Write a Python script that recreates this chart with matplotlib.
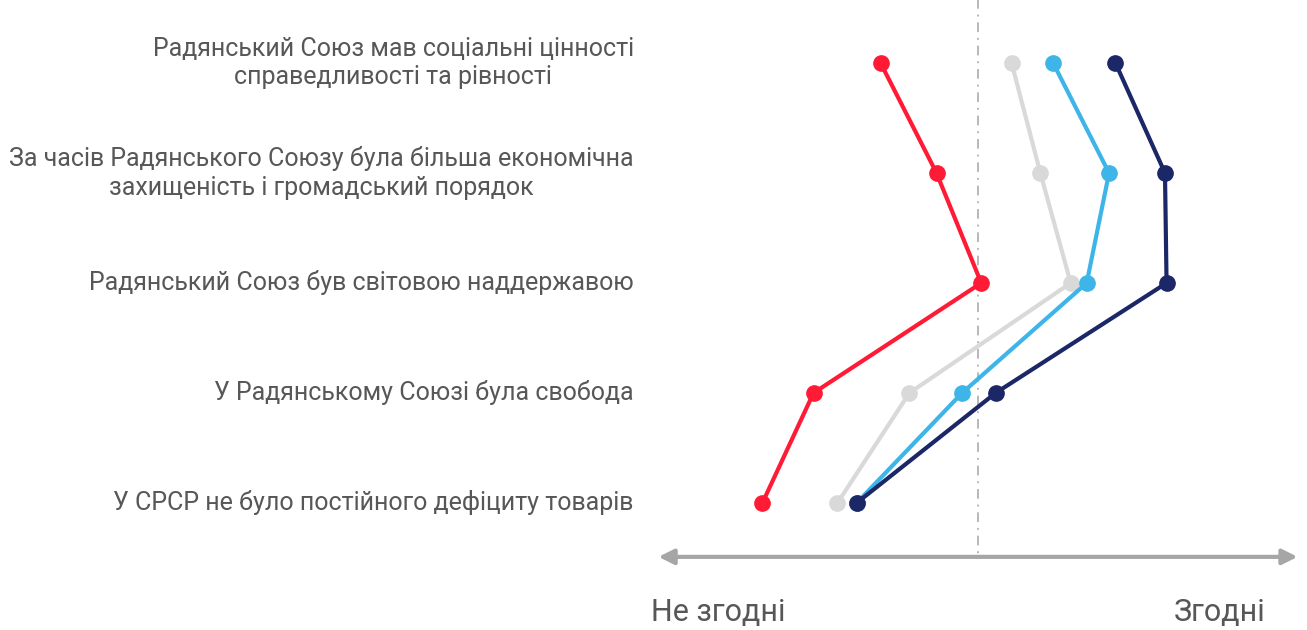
import matplotlib
matplotlib.use("Agg")
import matplotlib.pyplot as plt

plt.rcParams["font.family"] = ["Roboto", "DejaVu Sans"]

statements = [
    "Радянський Союз мав соціальні цінності\nсправедливості та рівності",
    "За часів Радянського Союзу була більша економічна\nзахищеність і громадський порядок",
    "Радянський Союз був світовою наддержавою",
    "У Радянському Союзі була свобода",
    "У СРСР не було постійного дефіциту товарів",
]
# average agreement, -2 = disagree, +2 = agree
red_vals = [-0.61, -0.26, 0.02, -1.03, -1.35]
gray_vals = [0.21, 0.39, 0.58, -0.43, -0.88]
blue_vals = [0.47, 0.82, 0.68, -0.10, -0.76]
navy_vals = [0.86, 1.17, 1.18, 0.11, -0.76]
series_colors = ["#ff1a35", "#d9d9d9", "#3db5e8", "#1b2766"]
left_label, right_label = "Не згодні", "Згодні"

fig = plt.figure(figsize=(13.07, 6.3), dpi=100)
ax = fig.add_axes([0, 0, 1, 1])
ax.set_xlim(-6.122, 2.059)
ax.set_ylim(5.155, -0.573)
ax.axis("off")

ypos = list(range(len(statements)))

# centre reference line
ax.plot([0, 0], [-0.6, 4.49], color="#b8b8b8", lw=1.4, ls=(0, (5, 3, 1, 3)), zorder=1)

for vals, c in zip([red_vals, gray_vals, blue_vals, navy_vals], series_colors):
    ax.plot(vals, ypos, color=c, lw=3, marker="o", ms=11, zorder=3)

for y, s in zip(ypos, statements):
    ax.text(-2.155, y, s, ha="right", va="center", multialignment="center",
            fontsize=18, color="#575757", linespacing=1.22)

# agree/disagree axis
ax.annotate("", xy=(2.0, 4.49), xytext=(-2.0, 4.49),
            arrowprops=dict(arrowstyle="<|-|>,head_length=0.9,head_width=0.45",
                            color="#a6a6a6", lw=3, shrinkA=0, shrinkB=0))
ax.text(-2.05, 5.0, left_label, ha="left", va="center", fontsize=22, color="#575757")
ax.text(1.8, 5.0, right_label, ha="right", va="center", fontsize=22, color="#575757")

fig.savefig("out.png", dpi=100)
